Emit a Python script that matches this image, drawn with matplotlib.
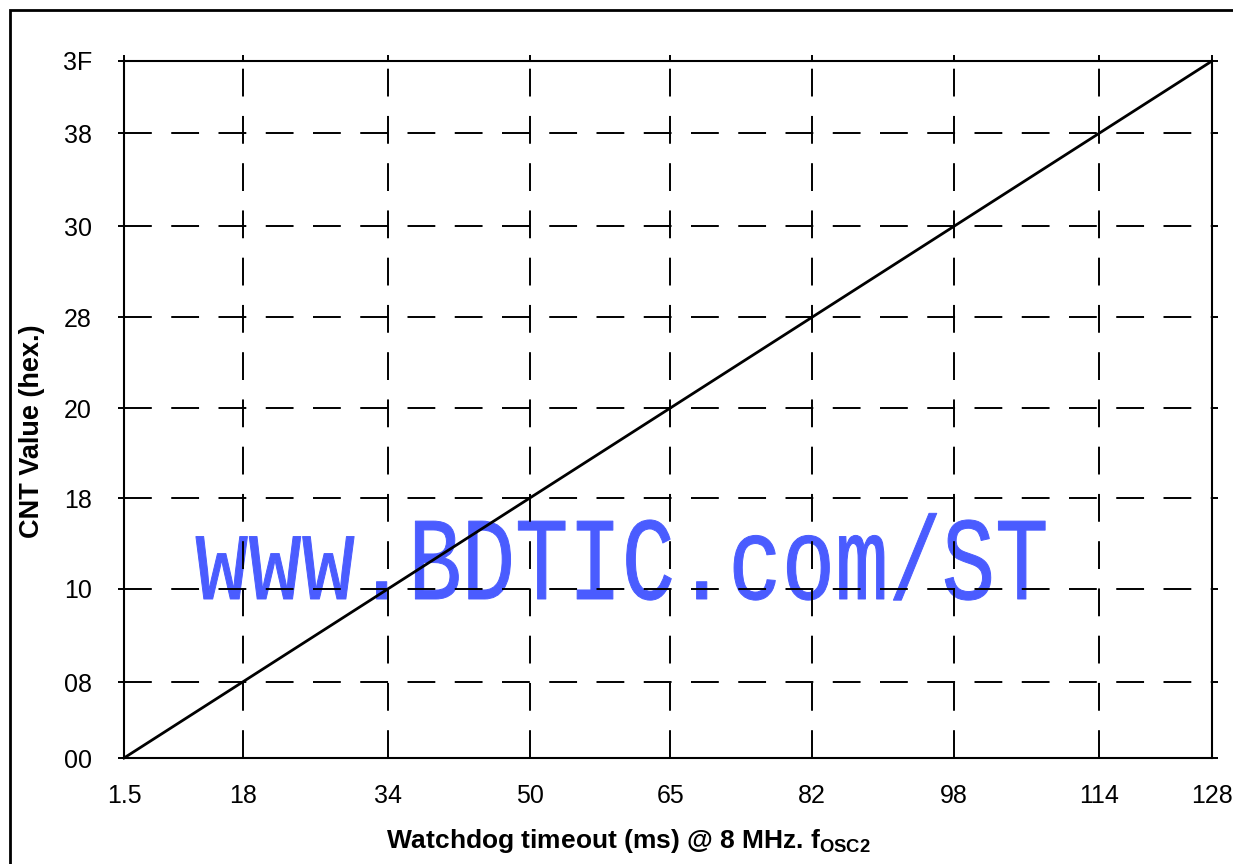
import numpy as np
import matplotlib
matplotlib.use("Agg")
import matplotlib.pyplot as plt
from matplotlib import patheffects
from matplotlib.patches import Rectangle
from matplotlib.transforms import Affine2D

plt.rcParams['font.family'] = ['Liberation Sans', 'DejaVu Sans']
plt.rcParams['mathtext.fontset'] = 'custom'
plt.rcParams['mathtext.rm'] = 'Liberation Sans'
plt.rcParams['mathtext.bf'] = 'Liberation Sans:bold'

# watchdog timeout (ms) for each CNT step
timeout_ms = [1.5, 18, 34, 50, 65, 82, 98, 114, 128]
timeout_labels = ["1.5", "18", "34", "50", "65", "82", "98", "114", "128"]
cnt_values = [0x00, 0x08, 0x10, 0x18, 0x20, 0x28, 0x30, 0x38, 0x3F]
cnt_labels = ["00", "08", "10", "18", "20", "28", "30", "38", "3F"]

# the datasheet grid is not evenly spaced: fraction of the axis for each gridline
grid_frac = [0, 0.109, 0.243, 0.373, 0.502, 0.632, 0.763, 0.896, 1]


def grid_scale(vals):
    return (lambda v: np.interp(v, vals, grid_frac),
            lambda f: np.interp(f, grid_frac, vals))


class Stretch(patheffects.AbstractPathEffect):
    """draw text paths taller (narrow watermark look), with a thin outline"""
    def __init__(self, sy, stroke):
        super().__init__()
        self.sy = sy
        self.stroke = stroke

    def draw_path(self, renderer, gc, tpath, affine, rgbFace=None):
        gc0 = renderer.new_gc()
        gc0.copy_properties(gc)
        gc0.set_linewidth(self.stroke)
        gc0.set_joinstyle('round')
        renderer.draw_path(gc0, tpath, Affine2D().scale(1, self.sy) + affine, rgbFace)
        gc0.restore()


W, H = 1233, 864
fig = plt.figure(figsize=(W / 100, H / 100), dpi=100)
ax = fig.add_axes([124 / W, 1 - 758 / H, 1088 / W, 697 / H])
ax.set_facecolor('white')

ax.set_xscale('function', functions=grid_scale(timeout_ms))
ax.set_yscale('function', functions=grid_scale(cnt_values))
ax.set_xlim(timeout_ms[0], timeout_ms[-1])
ax.set_ylim(cnt_values[0], cnt_values[-1])

ax.plot(timeout_ms, cnt_values, color='black', lw=2.0, zorder=3, clip_on=False)

ax.set_xticks(timeout_ms, timeout_labels)
ax.set_yticks(cnt_values, cnt_labels)
ax.minorticks_off()
ax.grid(True, color='black', lw=1.4, linestyle=(0, (14.3, 10)))
ax.tick_params(axis='both', direction='out', length=4.5, width=1.4,
               top=True, right=True, bottom=False, labelsize=18)
ax.tick_params(axis='x', pad=14)
ax.tick_params(axis='y', pad=18.5)
for s in ax.spines.values():
    s.set_linewidth(1.5)
    s.set_zorder(4)

# watermark, under the grid and the curve
ax.text(622 / W, 1 - 599 / H, "www.BDTIC.com/ST", transform=fig.transFigure,
        family=['Liberation Mono', 'DejaVu Sans Mono'], fontsize=64,
        color='#4a5cff', ha='center', va='baseline', zorder=1, clip_on=False,
        path_effects=[Stretch(1.33, 0.7)])

fig.text(628 / W, 1 - 841 / H, r"Watchdog timeout (ms) @ 8 MHz. f$_\mathbf{OSC2}$",
         ha='center', va='center', fontsize=19, fontweight='bold')
fig.text(32 / W, 1 - 431 / H, "CNT Value (hex.)", rotation=90,
         ha='center', va='center', fontsize=19.5, fontweight='bold')

# page frame (left and top edges visible)
fig.add_artist(Rectangle((10 / W, -0.2), 1.5, 1.2 - 10 / H, transform=fig.transFigure,
                         fill=False, lw=2, ec='black', clip_on=False))

fig.savefig('out.png', dpi=100)
